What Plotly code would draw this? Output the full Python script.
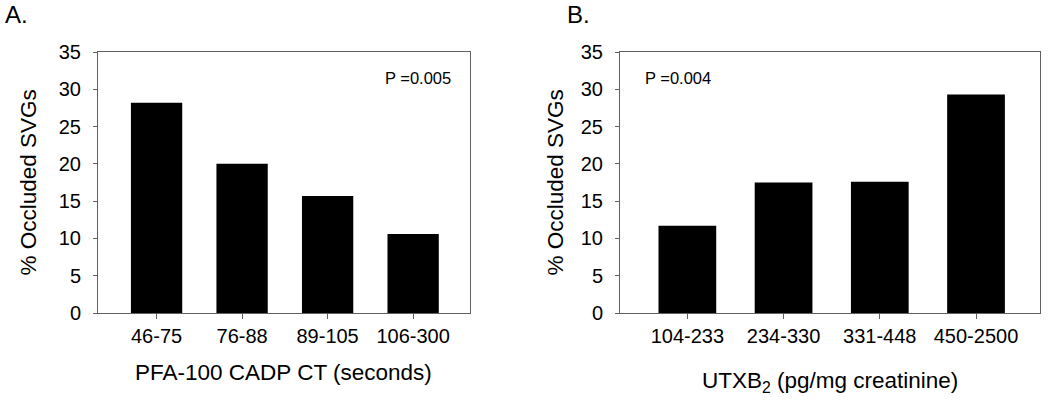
import plotly.graph_objects as go

# Data
cats_a = ["46-75", "76-88", "89-105", "106-300"]
vals_a = [28.2, 20.0, 15.7, 10.6]
cats_b = ["104-233", "234-330", "331-448", "450-2500"]
vals_b = [11.7, 17.5, 17.6, 29.3]
y_ticks = [0, 5, 10, 15, 20, 25, 30, 35]
title_a = "PFA-100 CADP CT (seconds)"
title_b = "UTXB<sub>2</sub> (pg/mg creatinine)"
ytitle = "% Occluded SVGs"
p_a = "P =0.005"
p_b = "P =0.004"

W, H = 1050, 404
FONT = "Liberation Sans, Arial, sans-serif"

def px(x):
    return x / W

def py(y):
    return (H - y) / H

fig = go.Figure()
fig.add_trace(go.Bar(x=list(range(len(cats_a))), y=vals_a, marker=dict(color="black", line=dict(width=0)),
                     xaxis="x", yaxis="y", showlegend=False, hoverinfo="skip"))
fig.add_trace(go.Bar(x=list(range(len(cats_b))), y=vals_b, marker=dict(color="black", line=dict(width=0)),
                     xaxis="x2", yaxis="y2", showlegend=False, hoverinfo="skip"))

axis_common = dict(showline=True, linecolor="#606060", linewidth=1, mirror=True, showgrid=False,
                   zeroline=False, ticks="outside", tickcolor="#606060", tickwidth=1, automargin=False,
                   tickfont=dict(family=FONT, size=20, color="black"))

ydom = [py(313), py(52)]
fig.update_layout(
    template="none",
    width=W, height=H, margin=dict(l=0, r=0, t=0, b=0, pad=0), autosize=False,
    paper_bgcolor="white", plot_bgcolor="white",
    bargap=0.4,
    xaxis=dict(domain=[px(98), px(470)], anchor="y", range=[-0.685, 3.665],
               tickvals=list(range(4)), ticktext=cats_a, ticklen=5, **axis_common),
    yaxis=dict(domain=ydom, anchor="x", range=[0, 35], tickvals=y_ticks, ticklen=4,
               ticklabelstandoff=8, **axis_common),
    xaxis2=dict(domain=[px(620), px(1040)], anchor="y2", range=[-0.70, 3.665],
                tickvals=list(range(4)), ticktext=cats_b, ticklen=5, **axis_common),
    yaxis2=dict(domain=ydom, anchor="x2", range=[0, 35], tickvals=y_ticks, ticklen=4,
                ticklabelstandoff=8, **axis_common),
    font=dict(family=FONT, color="black"),
)

ann = [
    dict(text="A.", x=px(3), y=py(14), xanchor="left", yanchor="middle", size=24),
    dict(text="B.", x=px(565), y=py(14), xanchor="left", yanchor="middle", size=24),
    dict(text=p_a, x=px(453), y=py(78), xanchor="right", yanchor="middle", size=16.5),
    dict(text=p_b, x=px(643), y=py(78), xanchor="left", yanchor="middle", size=16.5),
    dict(text=title_a, x=px(283.5), y=py(372), xanchor="center", yanchor="middle", size=22.5),
    dict(text=title_b, x=px(830), y=py(382), xanchor="center", yanchor="middle", size=22.5),
]
annotations = []
for a in ann:
    annotations.append(dict(text=a["text"], x=a["x"], y=a["y"], xref="paper", yref="paper",
                            xanchor=a["xanchor"], yanchor=a["yanchor"], showarrow=False,
                            font=dict(family=FONT, size=a["size"], color="black")))
for xc in (28, 555):
    annotations.append(dict(text=ytitle, x=px(xc), y=py(182.5), xref="paper", yref="paper",
                            xanchor="center", yanchor="middle", showarrow=False, textangle=-90,
                            font=dict(family=FONT, size=22.5, color="black")))
fig.update_layout(annotations=annotations)

fig.write_html("out.html", config={"displayModeBar": False, "responsive": False},
               post_script="document.body.style.margin='0px';document.body.style.overflow='hidden';")
